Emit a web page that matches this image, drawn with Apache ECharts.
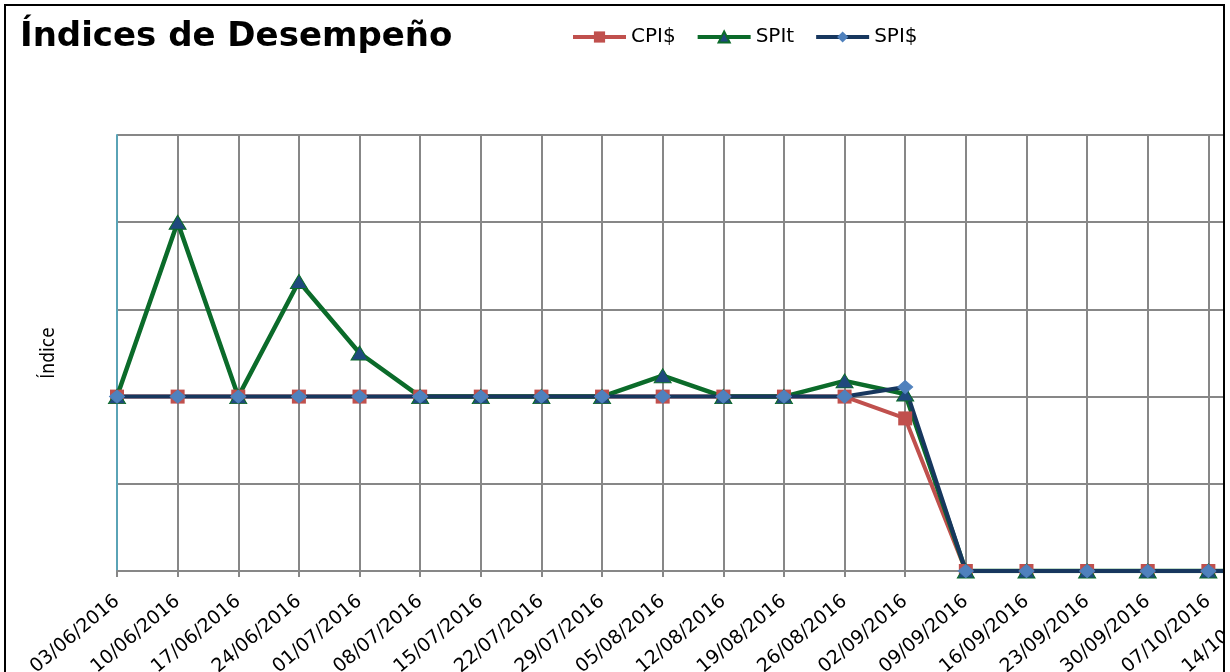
<!DOCTYPE html>
<html>
<head>
<meta charset="utf-8">
<script src="https://cdn.jsdelivr.net/npm/echarts@6/dist/echarts.min.js"></script>
<style>
  html, body { margin: 0; padding: 0; background: #fff; }
  #frame { position: absolute; left: 4px; top: 4px; width: 1217px; height: 680px;
           border: 2px solid #000; overflow: hidden; background: #fff; }
  #chart { position: absolute; left: 0; top: 0; width: 1300px; height: 666px; }
</style>
</head>
<body>
<div id="frame"><div id="chart"></div></div>
<script>
'use strict';
// fechas semanales (eje X)
var fechas = ['03/06/2016','10/06/2016','17/06/2016','24/06/2016','01/07/2016','08/07/2016',
  '15/07/2016','22/07/2016','29/07/2016','05/08/2016','12/08/2016','19/08/2016','26/08/2016',
  '02/09/2016','09/09/2016','16/09/2016','23/09/2016','30/09/2016','07/10/2016','14/10/2016'];
// indices
var cpi  = [1, 1, 1, 1, 1, 1, 1, 1, 1, 1, 1, 1, 1, 0.875, 0, 0, 0, 0, 0, 0];
var spit = [1, 2, 1, 1.66, 1.25, 1, 1, 1, 1, 1.12, 1, 1, 1.09, 1.015, 0, 0, 0, 0, 0, 0];
var spi  = [1, 1, 1, 1, 1, 1, 1, 1, 1, 1, 1, 1, 1, 1.055, 0, 0, 0, 0, 0, 0];

var myChart = echarts.init(document.getElementById('chart'));
var gris = '#878787';
var option = {
  animation: false,
  title: {
    text: 'Índices de Desempeño',
    left: 9, top: 9,
    textStyle: { fontFamily: 'DejaVu Sans', fontWeight: 'bold', fontSize: 34, color: '#000' }
  },
  legend: {
    left: 560, top: 16,
    itemWidth: 53, itemHeight: 14, itemGap: 20,
    lineStyle: { width: 4 },
    textStyle: { fontFamily: 'DejaVu Sans', fontSize: 20, color: '#000' },
    data: ['CPI$', 'SPIt', 'SPI$']
  },
  grid: {
    left: 111, top: 129, right: 37, bottom: 101,
    outerBoundsMode: 'none',
    show: true, borderColor: '#4BACC6', borderWidth: 1.5
  },
  xAxis: {
    type: 'category',
    data: fechas,
    boundaryGap: false,
    axisLine: { lineStyle: { color: gris, width: 2 } },
    axisTick: { show: true, length: 6, lineStyle: { color: gris, width: 2 } },
    splitLine: { show: true, lineStyle: { color: gris, width: 2 } },
    axisLabel: { rotate: 40, interval: 0, margin: 28,
      fontFamily: 'DejaVu Sans', fontSize: 19, color: '#000' }
  },
  yAxis: {
    type: 'value',
    min: 0, max: 2.5, interval: 0.5,
    name: 'Índice',
    nameLocation: 'middle',
    nameGap: 58,
    nameTextStyle: { fontFamily: 'DejaVu Sans Condensed', fontSize: 19, color: '#000' },
    axisLine: { show: true, lineStyle: { color: '#4BACC6', width: 1.5 } },
    axisTick: { show: false },
    axisLabel: { show: false },
    splitLine: { show: true, lineStyle: { color: gris, width: 2 } }
  },
  series: [
    {
      name: 'CPI$', type: 'line', data: cpi,
      symbol: 'rect', symbolSize: 14,
      lineStyle: { color: '#C0504D', width: 4 },
      itemStyle: { color: '#C0504D' }
    },
    {
      name: 'SPIt', type: 'line', data: spit,
      symbol: 'triangle', symbolSize: [17, 14],
      lineStyle: { color: '#0B6B2A', width: 4.5 },
      itemStyle: { color: '#1F497D', borderColor: '#0B6B2A', borderWidth: 1 }
    },
    {
      name: 'SPI$', type: 'line', data: spi,
      symbol: 'diamond', symbolSize: [15, 13],
      lineStyle: { color: '#17375E', width: 4 },
      itemStyle: { color: '#4F81BD', borderColor: '#4F81BD' }
    }
  ]
};
myChart.setOption(option);
</script>
</body>
</html>
